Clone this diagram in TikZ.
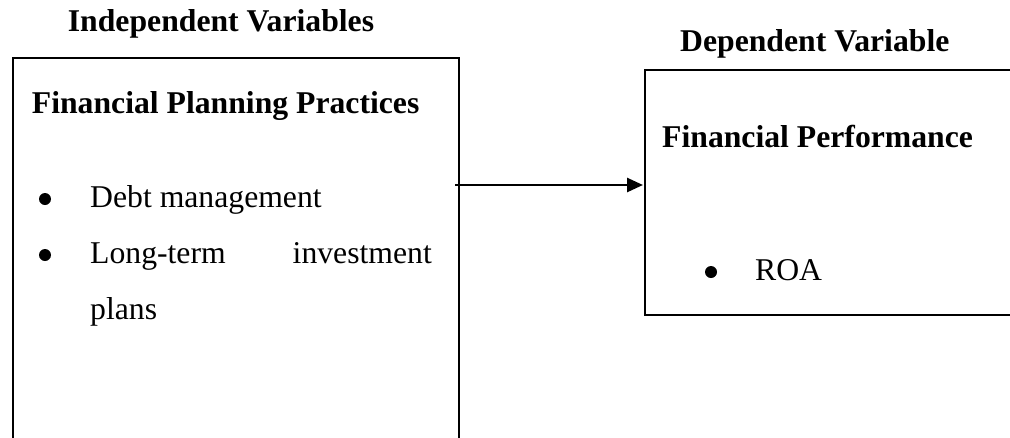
\documentclass[tikz,border=0pt]{standalone}
\usepackage{fontspec}
\setmainfont{Liberation Serif}
\usetikzlibrary{arrows.meta}
\tikzset{
  lbl/.style={anchor=base west, inner sep=0pt, font=\fontsize{31.7}{38}\selectfont},
  lble/.style={anchor=base east, inner sep=0pt, font=\fontsize{31.7}{38}\selectfont},
  hdr/.style={lbl, font=\fontsize{31.7}{38}\selectfont\bfseries},
  bul/.style={circle, fill=black, inner sep=0pt, minimum size=12pt},
  frame/.style={line width=2.6pt},
  conn/.style={line width=2.6pt, -{Triangle[length=16pt,width=14pt]}}
}
\begin{document}
\begin{tikzpicture}[x=1pt,y=-1pt]
\useasboundingbox (0,0) rectangle (1010,437);
% left box (open at bottom)
\coordinate (lbl1) at (13,445);
\coordinate (ltl) at (13,58);
\coordinate (ltr) at (459,58);
\coordinate (lbr) at (459,445);
\draw[frame] (lbl1) -- (ltl) -- (ltr) -- (lbr);
% right box (open at right)
\coordinate (rtr) at (1015,70);
\coordinate (rtl) at (645,70);
\coordinate (rbl) at (645,315);
\coordinate (rbr) at (1015,315);
\draw[frame] (rtr) -- (rtl) -- (rbl) -- (rbr);
% headings
\node[hdr] (iv) at (67.7,31) {Independent Variables};
\node[hdr] (dv) at (680,51) {Dependent Variable};
\node[hdr] (fpp) at (31.7,113) {Financial Planning Practices};
\node[hdr] (fp) at (662,147) {Financial Performance};
% bullets left
\node[bul] (b1) at (45,199) {};
\node[lbl] (t1) at (90,207) {Debt management};
\node[bul] (b2) at (45,255) {};
\node[lbl] (t2a) at (90,263) {Long-term};
\node[lble] (t2b) at (432,263) {investment};
\node[lbl] (t3) at (90,319) {plans};
% bullet right
\node[bul] (b4) at (711,272) {};
\node[lbl] (t4) at (755,280) {ROA};
% arrow
\coordinate (as) at (455,185);
\coordinate (ae) at (643,185);
\draw[conn] (as) -- (ae);
\end{tikzpicture}
\end{document}
